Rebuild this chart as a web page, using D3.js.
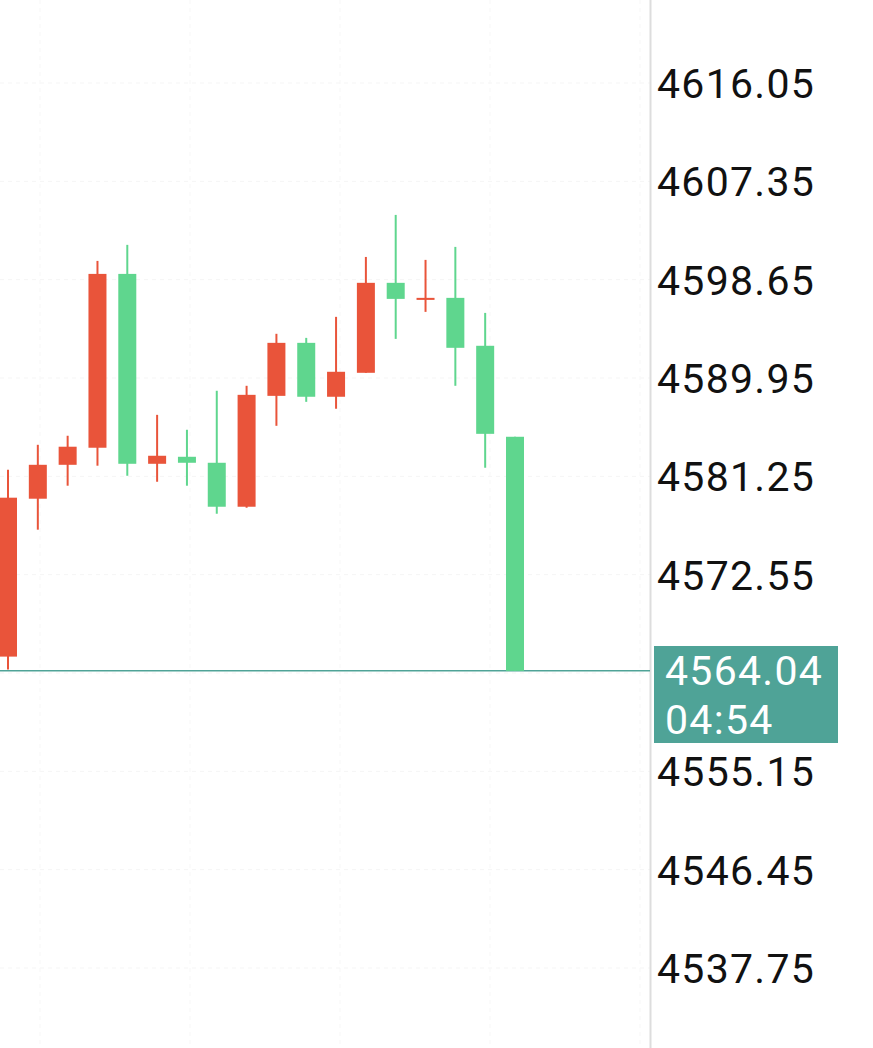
<!DOCTYPE html>
<html><head><meta charset="utf-8">
<script src="https://cdn.jsdelivr.net/npm/d3@7"></script>
<style>body{margin:0;background:#fff}svg{display:block}</style>
</head><body>
<script>
const opens  = [4565.30,4579.27,4582.27,4583.78,4599.16,4582.36,4582.98,4582.45,4578.56,4588.37,4593.06,4588.29,4590.41,4598.37,4596.86,4597.04,4592.80,4584.75];
const closes = [4579.36,4582.27,4583.87,4599.16,4582.36,4583.07,4582.45,4578.56,4588.46,4593.06,4588.29,4590.50,4598.37,4596.95,4597.04,4592.62,4585.01,4564.04];
const highs  = [4581.83,4584.04,4584.84,4600.31,4601.73,4586.69,4585.37,4588.82,4589.26,4593.86,4593.50,4595.36,4600.66,4604.38,4600.40,4601.55,4595.71,4584.75];
const lows   = [4564.15,4576.53,4580.42,4582.19,4581.30,4580.77,4580.42,4577.94,4578.47,4585.72,4587.84,4587.23,4590.41,4593.41,4595.80,4589.26,4582.01,4564.04];
const tickLabels = ["4616.05","4607.35","4598.65","4589.95","4581.25","4572.55","4555.15","4546.45","4537.75"];
const lastPrice = 4564.04, countdown = "04:54";

const W=873,H=1048;
const svg=d3.select("body").append("svg").attr("width",W).attr("height",H);
const y=d3.scaleLinear().domain([4616.05,4537.75]).range([83,968]);
const x=d3.scaleLinear().domain([0,17]).range([8,515]);
const up="#e9543a", down="#5fd68e";
svg.selectAll(".hg").data(tickLabels.map(Number).concat([4563.85])).enter().append("line")
 .attr("x1",0).attr("x2",650).attr("y1",d=>y(d)).attr("y2",d=>y(d))
 .attr("stroke","#f5f5f5").attr("stroke-dasharray","4,4");
svg.selectAll(".vg").data([40,190,340,490,640]).enter().append("line")
 .attr("x1",d=>d).attr("x2",d=>d).attr("y1",0).attr("y2",H)
 .attr("stroke","#f7f7f7").attr("stroke-dasharray","4,4");
svg.append("line").attr("x1",650.5).attr("x2",650.5).attr("y1",0).attr("y2",H).attr("stroke","#ddd").attr("stroke-width",2);
svg.append("line").attr("x1",0).attr("x2",650).attr("y1",y(lastPrice)).attr("y2",y(lastPrice)).attr("stroke","#4fa397").attr("stroke-width",1.5);
const idx=d3.range(opens.length);
const col=i=>closes[i]>=opens[i]?up:down;
svg.selectAll(".w").data(idx).enter().append("line")
 .attr("x1",i=>x(i)).attr("x2",i=>x(i)).attr("y1",i=>y(highs[i])).attr("y2",i=>y(lows[i]))
 .attr("stroke",col).attr("stroke-width",2);
svg.selectAll(".b").data(idx).enter().append("rect")
 .attr("x",i=>x(i)-9).attr("width",18)
 .attr("y",i=>y(Math.max(opens[i],closes[i])))
 .attr("height",i=>Math.max(2,Math.abs(y(opens[i])-y(closes[i]))))
 .attr("fill",col);
svg.selectAll(".t").data(tickLabels).enter().append("text")
 .attr("x",657).attr("y",d=>y(+d)+15).text(d=>d)
 .attr("font-family","Roboto, sans-serif").attr("font-size",41).attr("fill","#111").attr("letter-spacing",1.3);
svg.append("rect").attr("x",654).attr("y",646).attr("width",184).attr("height",97).attr("fill","#4fa397");
svg.append("text").attr("x",665).attr("y",685).text(lastPrice.toFixed(2)).attr("font-family","Roboto, sans-serif").attr("font-size",41).attr("fill","#fff").attr("letter-spacing",1.3);
svg.append("text").attr("x",665).attr("y",734).text(countdown).attr("font-family","Roboto, sans-serif").attr("font-size",41).attr("fill","#fff").attr("letter-spacing",1.3);
</script>
</body></html>
